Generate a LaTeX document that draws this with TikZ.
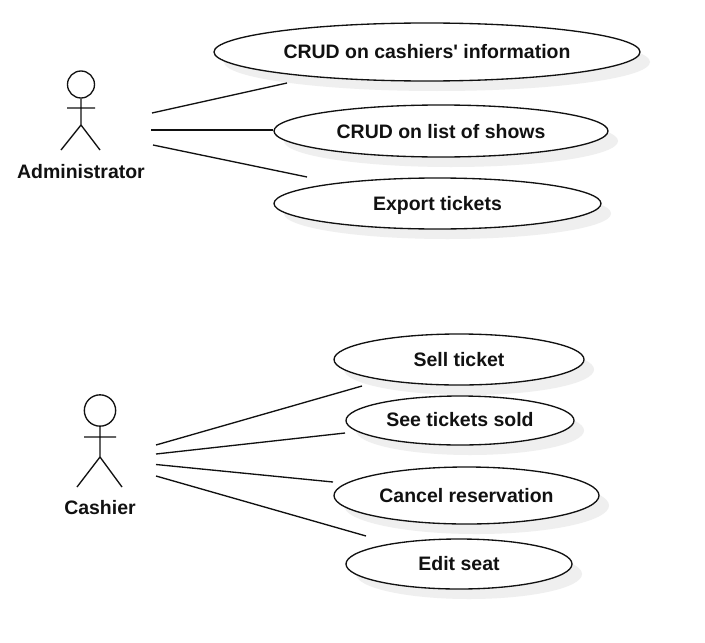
\documentclass[tikz,border=0pt]{standalone}
\usepackage{fontspec}
\newfontfamily\labelfont{Liberation Sans}
\usetikzlibrary{shapes.geometric}
\definecolor{ink}{HTML}{111111}
\definecolor{shade}{HTML}{EFEFEF}
\tikzset{
  usecase/.style={ellipse,draw=ink,fill=white,line width=1pt,inner sep=0pt,
    font=\labelfont\fontsize{14.6}{18}\selectfont\bfseries,text=ink,
    text height=13pt,text depth=2.5pt,
    preaction={fill=shade,transform canvas={shift={(7.5pt,-7.5pt)}}}},
  actorlabel/.style={font=\labelfont\fontsize{14.6}{18}\selectfont\bfseries,text=ink,inner sep=0pt},
  assoc/.style={draw=ink,line width=1pt},
  stick/.style={draw=ink,line width=1pt}
}
\begin{document}
\begin{tikzpicture}[x=0.75pt,y=-0.75pt]
\useasboundingbox (0,0) rectangle (705,642);
\fill[white] (0,0) rectangle (705,642);
% use cases
\node[usecase,minimum width=319.5pt,minimum height=43.5pt] (crudc) at (427,52) {CRUD on cashiers' information};
\node[usecase,minimum width=250.5pt,minimum height=39pt] (cruds) at (441,131) {CRUD on list of shows};
\node[usecase,minimum width=245.25pt,minimum height=38.25pt] (export) at (437.5,203.5) {Export tickets};
\node[usecase,minimum width=187.5pt,minimum height=38.25pt] (sell) at (459,359.5) {Sell ticket};
\node[usecase,minimum width=171pt,minimum height=36.75pt] (see) at (460,420.5) {\raisebox{0.75pt}{See tickets sold}};
\node[usecase,minimum width=198.75pt,minimum height=42.75pt] (cancel) at (466.5,495.5) {Cancel reservation};
\node[usecase,minimum width=169.5pt,minimum height=37.5pt] (edit) at (459,564) {\raisebox{0.75pt}{Edit seat}};
% administrator
\node[circle,stick,minimum size=20.25pt,inner sep=0pt] (ahead) at (81,84.5) {};
\coordinate (ahip) at (81,125);
\coordinate (aarml) at (67,108);
\coordinate (aarmr) at (95,108);
\coordinate (alegl) at (61,150);
\coordinate (alegr) at (100,150);
\draw[stick] (ahead.south) -- (ahip) (aarml) -- (aarmr) (alegl) -- (ahip) -- (alegr);
\node[actorlabel] (alabel) at (81,171.8) {Administrator};
% cashier
\node[circle,stick,minimum size=23.5pt,inner sep=0pt] (chead) at (100,410.5) {};
\coordinate (chip) at (100,457);
\coordinate (carml) at (84,437);
\coordinate (carmr) at (116,437);
\coordinate (clegl) at (77,487);
\coordinate (clegr) at (122,487);
\draw[stick] (chead.south) -- (chip) (carml) -- (carmr) (clegl) -- (chip) -- (clegr);
\node[actorlabel] (clabel) at (100,507.8) {Cashier};
% free ends
\coordinate (a1) at (152,113); \coordinate (a1e) at (287,83);
\coordinate (a2) at (151,130);
\coordinate (a3) at (153,145); \coordinate (a3e) at (307,177);
\coordinate (c1) at (156,445); \coordinate (c1e) at (362,386);
\coordinate (c2) at (156,454); \coordinate (c2e) at (345,433);
\coordinate (c3) at (156,464.5); \coordinate (c3e) at (333,482);
\coordinate (c4) at (156,476); \coordinate (c4e) at (366,536);
\draw[assoc] (a1) -- (a1e);
\draw[assoc] (a2) -- (a2 -| cruds.west);
\draw[assoc] (a3) -- (a3e);
\draw[assoc] (c1) -- (c1e);
\draw[assoc] (c2) -- (c2e);
\draw[assoc] (c3) -- (c3e);
\draw[assoc] (c4) -- (c4e);
\end{tikzpicture}
\end{document}
